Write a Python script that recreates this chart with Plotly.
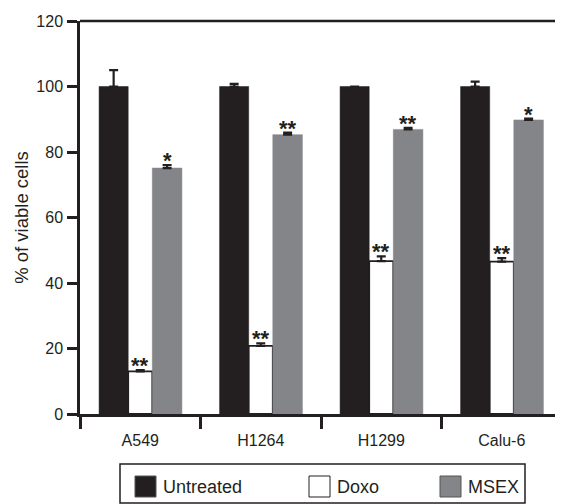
import plotly.graph_objects as go

categories = ["A549", "H1264", "H1299", "Calu-6"]
series_names = ["Untreated", "Doxo", "MSEX"]
untreated = [100.0, 100.0, 100.0, 100.0]
untreated_err = [5.0, 0.8, 0.0, 1.5]
doxo = [13.0, 20.8, 46.7, 46.5]
doxo_err = [0.4, 0.8, 1.4, 1.1]
msex = [75.1, 85.3, 86.9, 89.8]
msex_err = [0.9, 0.6, 0.5, 0.4]
doxo_stars = ["**", "**", "**", "**"]
msex_stars = ["*", "**", "**", "*"]
untreated_stars = ["", "", "", ""]

# page offset (browser body margin)
OFF = 8
W, H = 563 - OFF, 504 - OFF
ML, MR, MT, MB = 80 - OFF, 1, 21 - OFF, 504 - 414
PW, PH = W - ML - MR, H - MT - MB

def px_x(p):
    return (p - OFF - ML) / PW

def px_y(p):
    return (H - MB - (p - OFF)) / PH

FONT = "Liberation Sans, Arial, Helvetica, sans-serif"
BLACK = "#231f20"
GRAY = "#848589"

values = [untreated, doxo, msex]
errors = [untreated_err, doxo_err, msex_err]
stars = [untreated_stars, doxo_stars, msex_stars]
fills = [BLACK, "#ffffff", GRAY]
outlines = [BLACK, BLACK, GRAY]
outline_w = [0.5, 1.8, 0.5]
# bar placement within each category slot (category units)
bar_offsets = [-0.3417, -0.1, 0.1]
bar_widths = [0.2417, 0.2, 0.2458]

fig = go.Figure()
for i, name in enumerate(series_names):
    fig.add_trace(go.Bar(
        x=categories, y=values[i], name=name,
        offset=bar_offsets[i], width=bar_widths[i],
        marker=dict(color=fills[i], line=dict(color=outlines[i], width=outline_w[i])),
        error_y=dict(type="data", array=errors[i], arrayminus=[0] * len(categories),
                     symmetric=False, thickness=2.2, width=4.5, color=BLACK),
        showlegend=False,
    ))

annotations = []
for i in range(len(series_names)):
    off = bar_offsets[i] + bar_widths[i] / 2
    for j, c in enumerate(categories):
        s = stars[i][j]
        if not s:
            continue
        annotations.append(dict(
            x=j + off, y=values[i][j] + errors[i][j], xref="x", yref="y",
            text="<b>" + s + "</b>", showarrow=False, yanchor="bottom",
            yshift=-10, font=dict(family=FONT, size=22, color=BLACK),
        ))

shapes = [
    dict(type="line", xref="paper", yref="paper", x0=0, x1=1, y0=1, y1=1,
         line=dict(color=BLACK, width=2.5)),
    dict(type="line", xref="paper", yref="paper", x0=1, x1=1, y0=0, y1=1,
         line=dict(color="#9a9a9a", width=1)),
    dict(type="rect", xref="paper", yref="paper", x0=px_x(120), x1=px_x(525),
         y0=px_y(503), y1=px_y(464), line=dict(color=BLACK, width=1.5)),
]
leg_sq = [135, 309, 440]
for i, name in enumerate(series_names):
    shapes.append(dict(type="rect", xref="paper", yref="paper",
                       x0=px_x(leg_sq[i]), x1=px_x(leg_sq[i] + 21),
                       y0=px_y(497), y1=px_y(476),
                       fillcolor=fills[i], line=dict(color=BLACK if i == 1 else "#555555", width=1)))
    annotations.append(dict(x=px_x(leg_sq[i] + 26), y=px_y(487), xref="paper", yref="paper",
                            text=name, showarrow=False, xanchor="left", yanchor="middle",
                            font=dict(family=FONT, size=18, color=BLACK)))

fig.update_layout(
    width=W, height=H,
    margin=dict(l=ML, r=MR, t=MT, b=MB),
    paper_bgcolor="white", plot_bgcolor="white",
    barmode="group",
    font=dict(family=FONT, color=BLACK),
    shapes=shapes, annotations=annotations,
    xaxis=dict(type="category", range=[-0.5, 3.5], showline=True, linecolor=BLACK, linewidth=2.5,
               ticks="outside", tickson="boundaries", ticklen=12, tickwidth=2.5, tickcolor=BLACK,
               ticklabelstandoff=10,
               tickfont=dict(family=FONT, size=16, color=BLACK), showgrid=False, zeroline=False),
    yaxis=dict(range=[0, 120], dtick=20, showline=True, linecolor=BLACK, linewidth=2.5,
               ticks="outside", ticklen=10, tickwidth=2.5, tickcolor=BLACK,
               ticklabelstandoff=1,
               tickfont=dict(family=FONT, size=16, color=BLACK), showgrid=False, zeroline=False,
               title=dict(text="% of viable cells", standoff=3,
                          font=dict(family=FONT, size=18.5, color=BLACK))),
)

fig.write_html("out.html")
